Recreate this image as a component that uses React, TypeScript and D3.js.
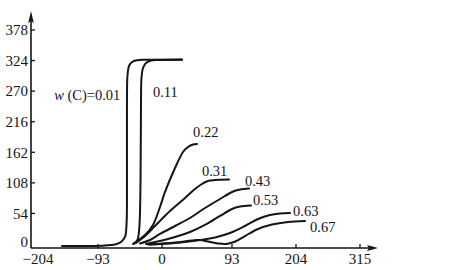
import React from "react";
import * as d3 from "d3";

const xTicks = [-204, -93, 0, 93, 204, 315];
const yTicks = [0, 54, 108, 162, 216, 270, 324, 378];

const s001: [number, number][] = [
  [-154.5, -3.5], [-106.7, -3.5], [-82.8, -2.6], [-68.3, -0.9], [-59.6, 3.5], [-53.8, 12.4],
  [-51.6, 33.6], [-50.9, 113], [-50.9, 254.4], [-50.1, 298.5], [-47.9, 314.4], [-43.6, 321.5],
  [-36.3, 324.5], [-24.7, 325.4], [26.6, 325.9],
];
const s011: [number, number][] = [
  [-42.1, 0], [-37.8, 2.6], [-34.8, 10.6], [-32.7, 33.6], [-31.2, 113], [-30.5, 254.4],
  [-29.8, 293.2], [-27.6, 310.9], [-23.3, 319.7], [-16.0, 324.1], [-5.8, 325], [26.6, 325.4],
];
const s022: [number, number][] = [
  [-40.7, 1.8], [-24.7, 15.9], [-13.1, 33.6], [-2.9, 65.4], [4.0, 91.9], [17.3, 134.2],
  [27.9, 162.5], [34.5, 171.3], [41.2, 175.8], [46.5, 176.6],
];
const s031: [number, number][] = [
  [-37.8, 1.8], [-24.7, 14.1], [-10.2, 31.8], [10.6, 58.3], [30.6, 81.3], [43.8, 97.2],
  [53.1, 106], [61.1, 111.3], [70.4, 113], [89.0, 113.9],
];
const s043: [number, number][] = [
  [-32, 0.9], [-17.4, 7.1], [-2.9, 17.7], [17.3, 31.8], [37.2, 45.9], [57.1, 63.6],
  [77.1, 79.5], [93, 91.9], [106.9, 96.3], [122.5, 98],
];
const s053: [number, number][] = [
  [-23.3, 0], [-2.9, 5.3], [17.3, 12.4], [37.2, 21.2], [57.1, 33.6], [77.1, 49.5],
  [93, 61.8], [106.9, 66.2], [126, 68],
];
const s063: [number, number][] = [
  [-20.3, -0.9], [17.3, 1.8], [50.5, 7.1], [70.4, 11.5], [90.3, 19.4], [115.5, 31.8],
  [138.1, 44.2], [158.9, 51.2], [176.3, 53.9], [193.6, 54.8],
];
const s067: [number, number][] = [
  [-17.4, -0.9], [17.3, 2.6], [39.9, 6.2], [50.5, 7.1], [61.1, 4.4], [74.4, 0.9],
  [85, 0], [96.5, 3.5], [115.5, 14.1], [138.1, 26.5], [162.4, 34.4], [190.1, 38.9], [219.6, 40.6],
];

const seriesList = [s001, s011, s022, s031, s043, s053, s063, s067];
const seriesNames = ["0.01", "0.11", "0.22", "0.31", "0.43", "0.53", "0.63", "0.67"];
// label anchor positions (data units)
const labelX = [-60.5, -13.1, 41.2, 53.1, 115.5, 129.4, 198.8, 228.3];
const labelY = [254.4, 259.7, 189, 120.1, 102.5, 68.9, 49.5, 21.2];

const FONT = "'Liberation Serif', 'Times New Roman', Times, serif";

export default function App() {
  const W = 464, H = 270;
  const x = d3.scaleLinear().domain(xTicks).range([33, 98, 162, 232, 296, 360]);
  const y = d3.scaleLinear().domain([0, 378]).range([244, 30]);
  const axisX = 31, axisY = 248;
  const line = d3
    .line<[number, number]>()
    .x((d) => x(d[0]))
    .y((d) => y(d[1]))
    .curve(d3.curveCatmullRom.alpha(0.5));
  const ink = "#151515";

  return (
    <svg width={W} height={H} style={{ position: "absolute", left: 0, top: 0, background: "#fff" }}>
      <rect width={W} height={H} fill="#fff" />
      {/* axes */}
      <line x1={axisX} y1={axisY} x2={372} y2={axisY} stroke={ink} strokeWidth={1.6} />
      <path d={`M378,${axisY} L367,${axisY - 3} L369,${axisY} L367,${axisY + 3} Z`} fill={ink} />
      <line x1={axisX} y1={axisY} x2={axisX} y2={18} stroke={ink} strokeWidth={1.6} />
      <path d={`M${axisX},11 L${axisX - 2.8},23 L${axisX},21 L${axisX + 2.8},23 Z`} fill={ink} />
      {/* y ticks */}
      {yTicks.map((t) => (
        <g key={"y" + t}>
          {t !== 0 && <line x1={axisX} x2={axisX + 4} y1={y(t)} y2={y(t)} stroke={ink} strokeWidth={1.3} />}
          <text x={28} y={y(t) - (t === 0 ? 2 : 0)} dy="0.35em" textAnchor="end" fontFamily={FONT} fontSize={15} fill={ink}>
            {t}
          </text>
        </g>
      ))}
      {/* x ticks */}
      {xTicks.map((t, i) => (
        <g key={"x" + t}>
          {i !== 0 && <line x1={x(t)} x2={x(t)} y1={axisY} y2={axisY - 4} stroke={ink} strokeWidth={1.3} />}
          <text x={x(t) + (i === 0 ? 5 : 0)} y={264} textAnchor="middle" fontFamily={FONT} fontSize={15} fill={ink}>
            {t < 0 ? "\u2212" + Math.abs(t) : String(t)}
          </text>
        </g>
      ))}
      {/* curves */}
      {seriesList.map((s, i) => (
        <path key={"s" + i} d={line(s) || ""} fill="none" stroke={ink} strokeWidth={2} strokeLinecap="round" strokeLinejoin="round" />
      ))}
      {/* labels */}
      {seriesNames.map((n, i) =>
        i === 0 ? (
          <text key={"l" + i} x={x(labelX[i])} y={y(labelY[i])} textAnchor="end" fontFamily={FONT} fontSize={14.5} fill={ink}>
            <tspan fontStyle="italic">w</tspan>
            {" (C)=" + n}
          </text>
        ) : (
          <text key={"l" + i} x={x(labelX[i])} y={y(labelY[i])} fontFamily={FONT} fontSize={14.5} fill={ink}>
            {n}
          </text>
        )
      )}
    </svg>
  );
}
